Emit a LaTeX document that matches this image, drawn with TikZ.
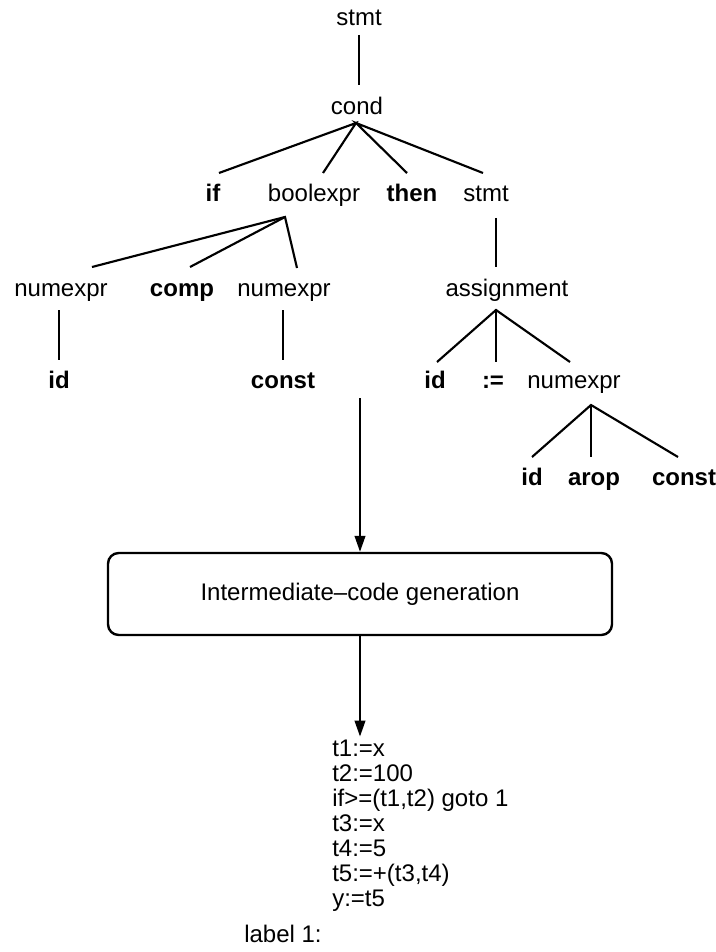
\documentclass[tikz,border=0pt]{standalone}
\usepackage{fontspec}
\setmainfont{Liberation Sans}
\usetikzlibrary{arrows.meta,calc}
\begin{document}
\begin{tikzpicture}[x=0.75pt,y=-0.75pt,
  lbl/.style={inner sep=0pt,anchor=base,font=\fontsize{18}{18}\selectfont},
  kw/.style={lbl,font=\fontsize{18}{18}\selectfont\bfseries},
  codeline/.style={inner sep=0pt,anchor=base west,font=\fontsize{18}{18}\selectfont},
  edge/.style={line width=1.6pt},
  arr/.style={line width=1.5pt,-{Triangle[length=12pt,width=8pt]}},
  procbox/.style={draw,line width=1.8pt,rounded corners=8pt,minimum width=378pt,minimum height=61.5pt,inner sep=0pt,font=\fontsize{18}{18}\selectfont}]
\useasboundingbox (0,0) rectangle (716,952);
% tree nodes
\node[lbl] (stmtA) at (359,26) {stmt};
\node[lbl] (cond) at (357,115) {cond};
\node[kw] (if) at (213,202) {if};
\node[lbl] (boolexpr) at (314,202) {boolexpr};
\node[kw] (then) at (412,202) {then};
\node[lbl] (stmtB) at (486,202) {stmt};
\node[lbl] (numexprA) at (61,296) {numexpr};
\node[kw] (comp) at (182,296) {comp};
\node[lbl] (numexprB) at (284,296) {numexpr};
\node[lbl] (assign) at (507,296) {assignment};
\node[kw] (idA) at (59,388) {id};
\node[kw] (constA) at (283,388) {const};
\node[kw] (idB) at (435,388) {id};
\node[kw] (becomes) at (493,388) {:=};
\node[lbl] (numexprC) at (574,388) {numexpr};
\node[kw] (idC) at (532,485) {id};
\node[kw] (arop) at (594,485) {arop};
\node[kw] (constB) at (684,485) {const};
% tree edges
\draw[edge] ([shift={(0,9)}]stmtA.base) -- ([shift={(2,-30)}]cond.base);
\draw[edge] ([shift={(6,-29)}]if.base) -- ([shift={(-1,8)}]cond.base)
  -- ([shift={(9,-29)}]boolexpr.base);
\draw[edge] ([shift={(-5,-29)}]then.base) -- ([shift={(-1,8)}]cond.base)
  -- ([shift={(-3,-29)}]stmtB.base);
\draw[edge] ([shift={(31,-29)}]numexprA.base) -- ([shift={(-29,15)}]boolexpr.base)
  -- ([shift={(13,-28)}]numexprB.base);
\draw[edge] ([shift={(8,-29)}]comp.base) -- ([shift={(-29,15)}]boolexpr.base);
\draw[edge] ([shift={(10,16)}]stmtB.base) -- ([shift={(-11,-29)}]assign.base);
\draw[edge] ([shift={(-2,14)}]numexprA.base) -- ([shift={(0,-28)}]idA.base);
\draw[edge] ([shift={(-1,14)}]numexprB.base) -- ([shift={(0,-28)}]constA.base);
\draw[edge] ([shift={(2,-26)}]idB.base) -- ([shift={(-11,14)}]assign.base)
  -- ([shift={(-4,-26)}]numexprC.base);
\draw[edge] ([shift={(-11,14)}]assign.base) -- ([shift={(3,-26)}]becomes.base);
\draw[edge] ([shift={(0,-28)}]idC.base) -- ([shift={(17,17)}]numexprC.base)
  -- ([shift={(-6,-28)}]constB.base);
\draw[edge] ([shift={(17,17)}]numexprC.base) -- ([shift={(-3,-28)}]arop.base);
% box and arrows
\node[procbox] (box) at (360,594) {Intermediate–code generation};
\coordinate (arrowstart) at (360,398);
\draw[arr] (arrowstart) -- (box.north);
% code
\node[codeline] (c1) at (332,756) {t1:=x};
\node[codeline] (c2) at (332,781) {t2:=100};
\node[codeline] (c3) at (332,806) {if>=(t1,t2) goto 1};
\node[codeline] (c4) at (332,831) {t3:=x};
\node[codeline] (c5) at (332,856) {t4:=5};
\node[codeline] (c6) at (332,881) {t5:=+(t3,t4)};
\node[codeline] (c7) at (332,906) {y:=t5};
\node[codeline] (lab) at (244,942) {label 1:};
\draw[arr,shorten >=2pt] (box.south) -- (box.south |- c1.north);
\end{tikzpicture}
\end{document}
